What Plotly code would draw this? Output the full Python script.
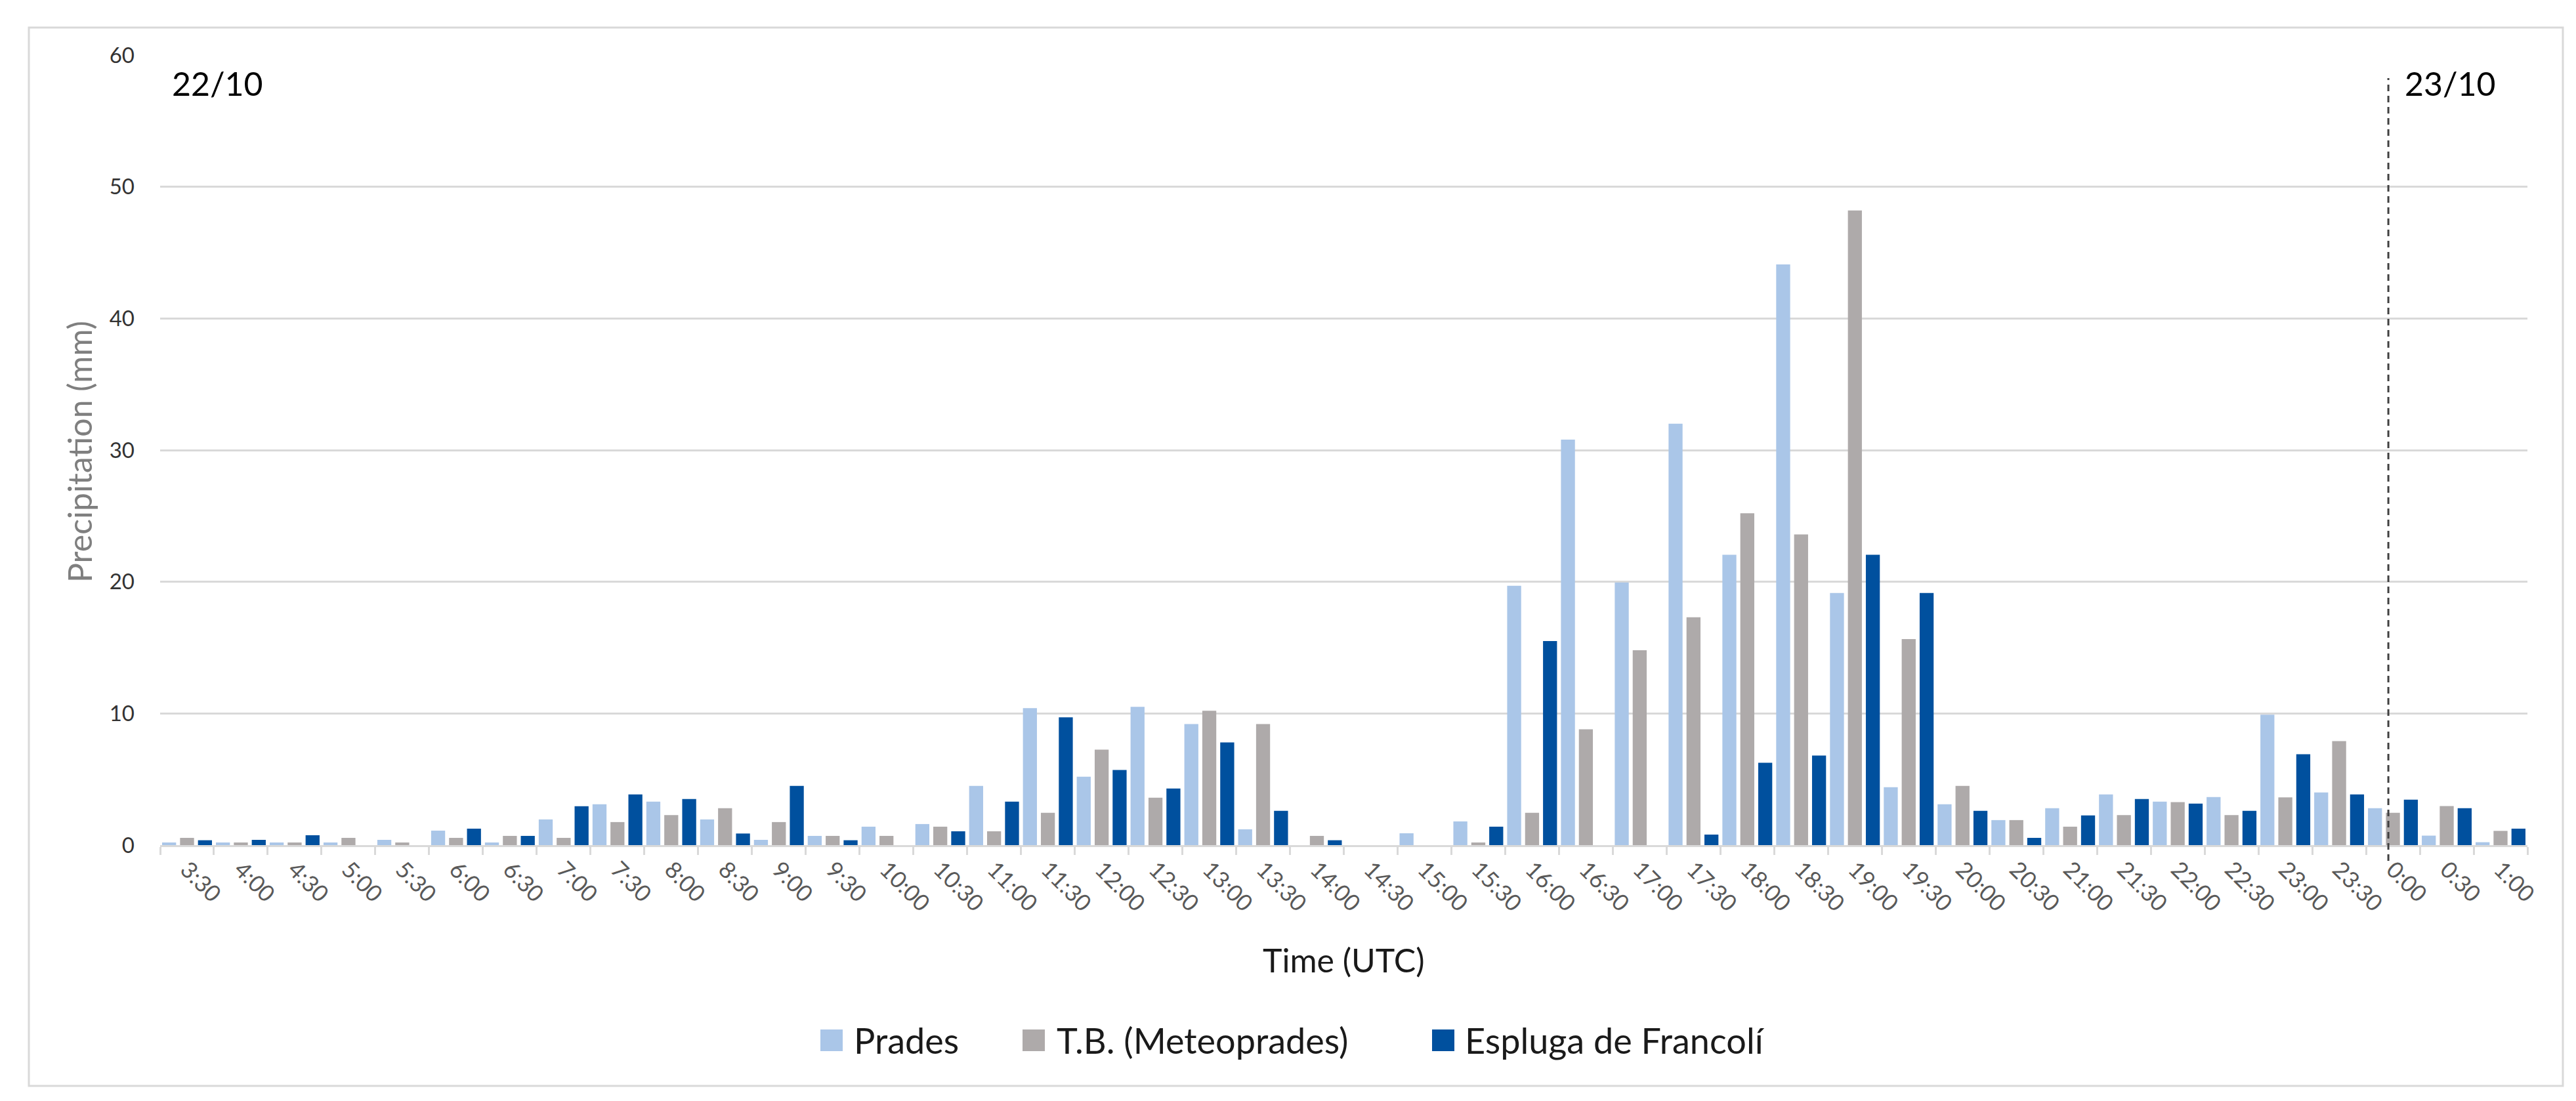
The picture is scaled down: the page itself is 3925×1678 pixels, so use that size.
import plotly.graph_objects as go

categories = ["3:30","4:00","4:30","5:00","5:30","6:00","6:30","7:00","7:30","8:00",
              "8:30","9:00","9:30","10:00","10:30","11:00","11:30","12:00","12:30","13:00",
              "13:30","14:00","14:30","15:00","15:30","16:00","16:30","17:00","17:30","18:00",
              "18:30","19:00","19:30","20:00","20:30","21:00","21:30","22:00","22:30","23:00",
              "23:30","0:00","0:30","1:00"]

prades = [0.2, 0.2, 0.2, 0.2, 0.4, 1.1, 0.2, 1.95, 3.1, 3.3,
          1.95, 0.4, 0.7, 1.4, 1.6, 4.5, 10.4, 5.2, 10.5, 9.2,
          1.2, 0.0, 0.0, 0.9, 1.8, 19.7, 30.8, 19.95, 32.0, 22.05,
          44.1, 19.15, 4.4, 3.1, 1.9, 2.8, 3.85, 3.3, 3.65, 9.9,
          4.0, 2.8, 0.72, 0.22]

tb_meteoprades = [0.55, 0.2, 0.2, 0.55, 0.2, 0.55, 0.7, 0.55, 1.75, 2.28,
                  2.8, 1.75, 0.7, 0.7, 1.4, 1.05, 2.45, 7.25, 3.6, 10.2,
                  9.2, 0.7, 0.0, 0.0, 0.2, 2.45, 8.8, 14.8, 17.3, 25.2,
                  23.6, 48.2, 15.65, 4.5, 1.9, 1.4, 2.28, 3.27, 2.28, 3.62,
                  7.9, 2.45, 2.96, 1.08]

espluga = [0.37, 0.4, 0.75, 0.0, 0.0, 1.25, 0.7, 2.95, 3.85, 3.5,
           0.88, 4.5, 0.37, 0.0, 1.05, 3.3, 9.7, 5.7, 4.3, 7.8,
           2.6, 0.37, 0.0, 0.0, 1.4, 15.5, 0.0, 0.0, 0.8, 6.25,
           6.8, 22.05, 19.15, 2.6, 0.55, 2.25, 3.5, 3.15, 2.6, 6.9,
           3.85, 3.45, 2.8, 1.25]

series_names = ["Prades", "T.B. (Meteoprades)", "Espluga de Francolí"]
series_colors = ["#AAC6E8", "#AEAAAA", "#00509E"]
series_values = [prades, tb_meteoprades, espluga]

y_ticks = [0, 10, 20, 30, 40, 50, 60]
day_labels = ["22/10", "23/10"]
day_break_category = "0:00"

FONT = "Lato"
W, H = 3925, 1678
L, R, T, B = 236, 82, 76, 398
PW, PH = W - L - R, H - T - B


def px(xp):
    return (xp - L) / PW


def py(yp):
    return (H - B - yp) / PH


fig = go.Figure()
for name, color, vals in zip(series_names, series_colors, series_values):
    fig.add_trace(go.Bar(x=categories, y=vals, name=name, marker_color=color,
                         marker_line_width=0, showlegend=False))

shapes = []
annotations = []

# chart border
shapes.append(dict(type="rect", xref="paper", yref="paper",
                   x0=px(36), x1=px(3897), y0=py(1647), y1=py(34),
                   line=dict(color="#D9D9D9", width=3), layer="below"))

# day break dashed line
brk = categories.index(day_break_category) - 0.085
shapes.append(dict(type="line", xref="x", yref="paper", x0=brk, x1=brk,
                   y0=py(1304), y1=py(111),
                   line=dict(color="#404040", width=3, dash="10px,7px")))

# day labels
annotations.append(dict(text=day_labels[0], xref="paper", yref="paper",
                        x=px(252), y=py(119), xanchor="left", yanchor="middle",
                        showarrow=False, font=dict(family=FONT, size=50, color="#000000")))
annotations.append(dict(text=day_labels[1], xref="paper", yref="paper",
                        x=px(3654), y=py(119), xanchor="left", yanchor="middle",
                        showarrow=False, font=dict(family=FONT, size=50, color="#000000")))

# axis titles
annotations.append(dict(text="Precipitation (mm)", xref="paper", yref="paper",
                        x=px(113), y=py(681), xanchor="center", yanchor="middle",
                        textangle=-90, showarrow=False,
                        font=dict(family=FONT, size=50, color="#7F7F7F")))
annotations.append(dict(text="Time (UTC)", xref="paper", yref="paper",
                        x=0.5, y=py(1455), xanchor="center", yanchor="middle",
                        showarrow=False, font=dict(family=FONT, size=50, color="#1A1A1A")))

# legend (squares + labels)
legend_sq_left = [1242, 1550, 2174]
legend_txt_left = [1291, 1600, 2222]
leg_y = 1577
for name, color, sx, tx in zip(series_names, series_colors, legend_sq_left, legend_txt_left):
    shapes.append(dict(type="rect", xref="paper", yref="paper",
                       x0=px(sx), x1=px(sx + 34), y0=py(leg_y + 17), y1=py(leg_y - 16),
                       fillcolor=color, line=dict(width=0)))
    annotations.append(dict(text=name, xref="paper", yref="paper",
                            x=px(tx), y=py(leg_y), xanchor="left", yanchor="middle",
                            showarrow=False,
                            font=dict(family=FONT, size=54, color="#1A1A1A")))

fig.update_layout(
    width=W, height=H, autosize=False,
    margin=dict(l=L, r=R, t=T, b=B, pad=0),
    paper_bgcolor="white", plot_bgcolor="white",
    barmode="group", bargap=0.0, bargroupgap=0.22,
    showlegend=False,
    shapes=shapes, annotations=annotations,
    font=dict(family=FONT),
)

fig.update_xaxes(
    type="category", categoryorder="array", categoryarray=categories,
    showline=True, linecolor="#D9D9D9", linewidth=3,
    ticks="outside", tickson="boundaries", ticklen=12, tickwidth=2.5, tickcolor="#D9D9D9",
    tickangle=45, tickfont=dict(family=FONT, size=35, color="#595959"),
    showgrid=False, zeroline=False,
)

fig.update_yaxes(
    range=[0, 60], tickvals=y_ticks,
    showgrid=True, gridcolor="#D9D9D9", gridwidth=2.5,
    zeroline=False, showline=False, ticks="",
    ticklabelstandoff=38,
    tickfont=dict(family=FONT, size=33, color="#333333"),
)

fig.write_html("out.html")
